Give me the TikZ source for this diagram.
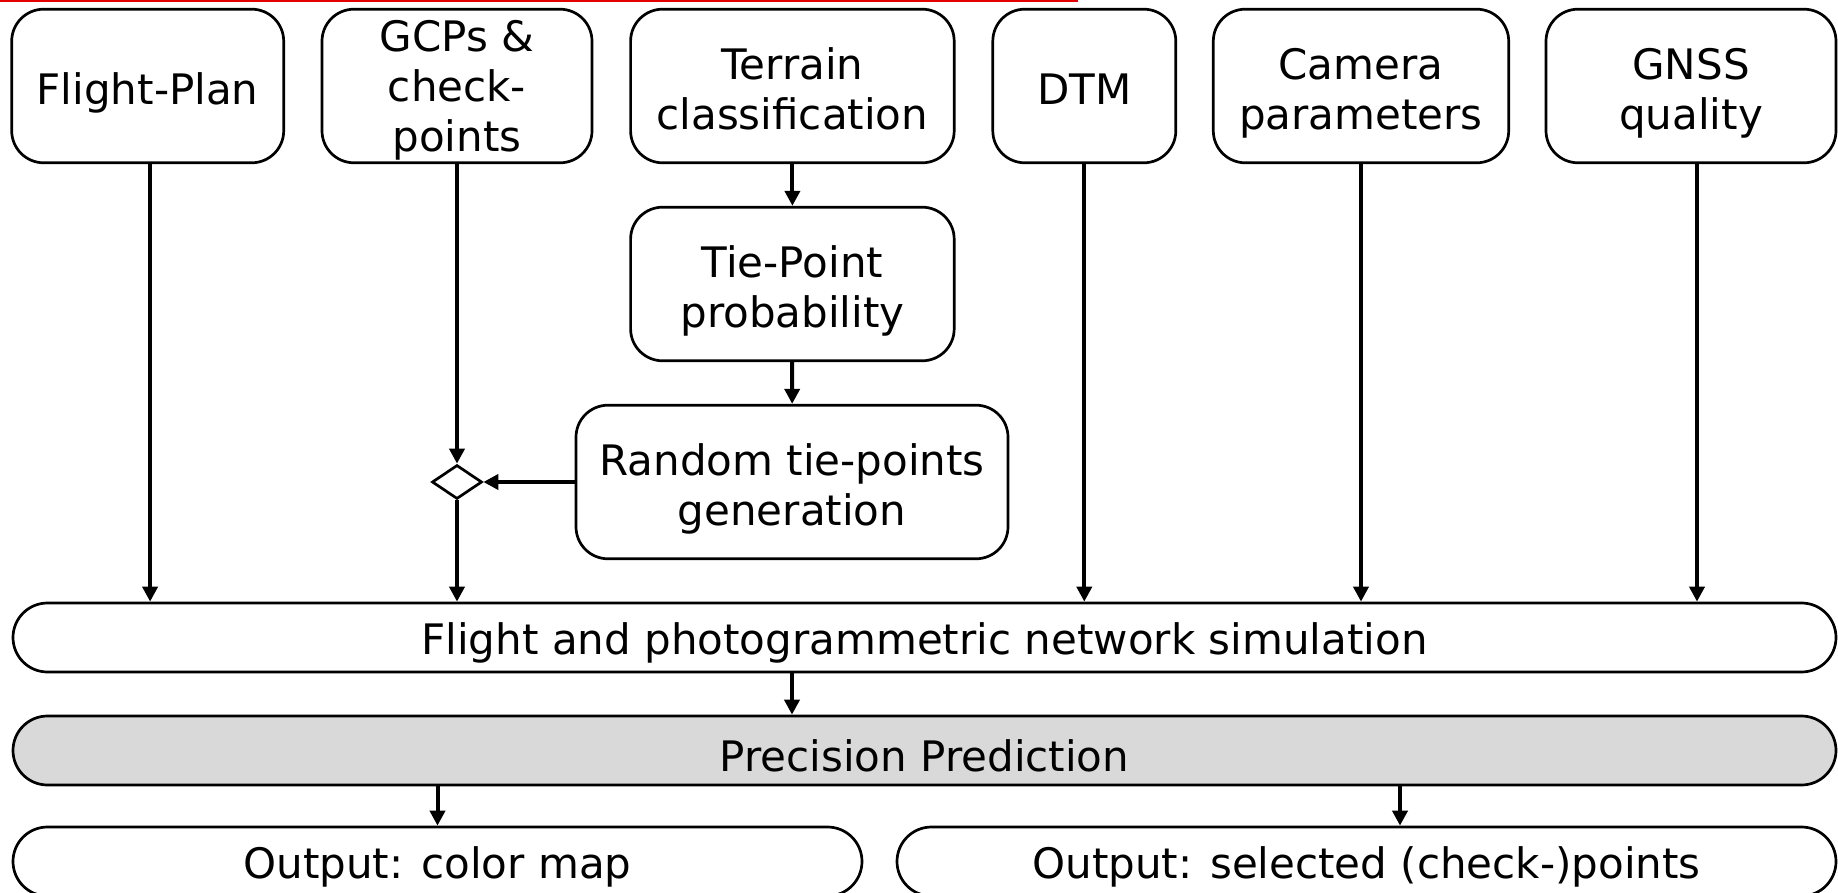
\documentclass[tikz,border=0pt]{standalone}
\usepackage{fontspec}
\setmainfont{DejaVu Sans}
\usetikzlibrary{arrows.meta,shapes.geometric}
\definecolor{predgray}{RGB}{217,217,217}
% struts for the first and last line of a box, so all labels sit alike
\newcommand{\boxstrut}[1][23.5pt]{\rule{0pt}{#1}}
\newcommand{\depthstrut}{\rule[-5pt]{0pt}{0pt}}

\begin{document}
\begin{tikzpicture}[x=0.5pt,y=0.5pt,yscale=-1,
    font=\fontsize{21}{25}\selectfont,
    box/.style={draw,line width=1.35pt,rounded corners=16pt,align=center,minimum height=76.8pt,inner sep=0pt},
    bar/.style={draw,line width=1.35pt,rounded corners=17.25pt,minimum height=34.5pt,inner sep=0pt,
      execute at begin node={\boxstrut[21pt]}},
    arr/.style={line width=2pt,-{Triangle[width=7.5pt,length=7.5pt]}}]
	\useasboundingbox (0,0) rectangle (1838,893);
	
	% red rule at the top edge
	\fill[red!90!black] (0,0) rectangle (1078,2);
	
	% input boxes
	\node[box,minimum width=136pt] (flight) at (147.7,86) {\boxstrut Flight-Plan\depthstrut};
	\node[box,minimum width=135pt] (gcp) at (457,86) {\boxstrut[21pt]GCPs \&\\check-\\points\depthstrut};
	\node[box,minimum width=161.8pt] (terrain) at (792.4,86) {\boxstrut Terrain\\classification\depthstrut};
	\node[box,minimum width=91.5pt] (dtm) at (1084.3,86) {\boxstrut DTM\depthstrut};
	\node[box,minimum width=147.7pt] (camera) at (1361,86) {\boxstrut Camera\\parameters\depthstrut};
	\node[box,minimum width=145pt] (gnss) at (1691,86) {\boxstrut GNSS\\quality\depthstrut};
	
	% tie-point branch
	\node[box,minimum width=161.8pt] (tiepoint) at (792.4,284) {\boxstrut Tie-Point\\probability\depthstrut};
	\node[box,minimum width=216pt] (random) at (792,482) {\boxstrut Random tie-points\\generation\depthstrut};
	\node[draw,diamond,line width=1.35pt,minimum width=25pt,minimum height=17pt,inner sep=0pt] (merge) at (457,482) {};
	
	% simulation, prediction and outputs
	\node[bar,minimum width=911.5pt] (sim) at (924.5,637.5) {Flight and photogrammetric network simulation};
	\node[bar,minimum width=911.5pt,fill=predgray] (prec) at (924.5,750.5) {Precision Prediction};
	\node[bar,minimum width=424.5pt] (outA) at (437.5,861.5) {Output: color map};
	\node[bar,minimum width=469.5pt] (outB) at (1366.5,861.5) {Output: selected (check-)points};
	
	% arrow feet that sit off the box centres
	\coordinate (flightout) at ([xshift=1.2pt]flight.south);
	\coordinate (gnssout) at ([xshift=3pt]gnss.south);
	\coordinate (outBin) at ([xshift=16.75pt]outB.north);
	
	% arrows
	\draw[arr] (flightout) -- (flightout |- sim.north);
	\draw[arr] (gcp.south) -- (merge.north);
	\draw[arr] (merge.south) -- (merge.south |- sim.north);
	\draw[arr] (random.west) -- (merge.east);
	\draw[arr] (terrain) -- (tiepoint);
	\draw[arr] (tiepoint) -- (random);
	\foreach \n in {dtm,camera}
		\draw[arr] (\n.south) -- (\n.south |- sim.north);
	\draw[arr] (gnssout) -- (gnssout |- sim.north);
	\draw[arr] (sim.south -| random) -- (prec.north -| random);
	\draw[arr] (prec.south -| outA) -- (outA.north);
	\draw[arr] (outBin |- prec.south) -- (outBin);
\end{tikzpicture}
\end{document}
